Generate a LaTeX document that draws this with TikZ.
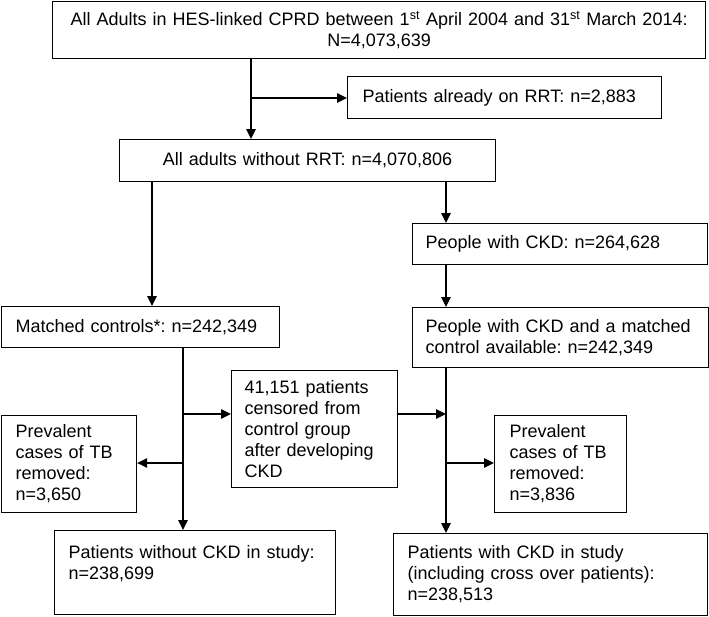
\documentclass[tikz,border=0pt]{standalone}
\usepackage{fontspec}
\setmainfont{Liberation Sans}
\usetikzlibrary{arrows.meta}
\frenchspacing
\begin{document}
\begin{tikzpicture}[x=1pt,y=-1pt,
  box/.style={draw, line width=1.2pt, anchor=north west, inner sep=0pt, align=left,
    font=\fontsize{18}{21}\selectfont},
  arr/.style={line width=1.2pt, -{Triangle[length=10pt,width=9.5pt]}}]
\useasboundingbox (0,0) rectangle (709,616);
% boxes
\node[box, minimum width=653pt, minimum height=57pt, text width=640pt, align=center] (top) at (52,1)
  {All Adults in HES-linked CPRD between 1\textsuperscript{st} April 2004 and 31\textsuperscript{st} March 2014:\\N=4,073,639};
\node[box, minimum width=314pt, minimum height=42pt, text width=284pt] (rrt) at (347,76)
  {Patients already on RRT: n=2,883};
\node[box, minimum width=376pt, minimum height=42pt, text width=360pt, align=center] (all) at (119,139)
  {All adults without RRT: n=4,070,806};
\node[box, minimum width=295pt, minimum height=41pt, text width=269pt] (ckd) at (412,223)
  {People with CKD: n=264,628};
\node[box, minimum width=296pt, minimum height=60pt, text width=270pt] (ckdm) at (412,307)
  {People with CKD and a matched\\control available: n=242,349};
\node[box, minimum width=278pt, minimum height=41pt, text width=250pt] (matched) at (1,306)
  {Matched controls*: n=242,349};
\node[box, minimum width=166pt, minimum height=117pt, text width=140pt] (cens) at (231,370)
  {41,151 patients\\censored from\\control group\\after developing\\CKD};
\node[box, minimum width=135pt, minimum height=97pt, text width=107pt] (prevL) at (1,415)
  {Prevalent\\cases of TB\\removed:\\n=3,650};
\node[box, minimum width=132pt, minimum height=97pt, text width=102pt] (prevR) at (494,415)
  {Prevalent\\cases of TB\\removed:\\n=3,836};
\node[box, minimum width=281pt, minimum height=84pt, text width=253pt] (wo) at (54,530)
  {Patients without CKD in study:\\n=238,699\\\mbox{}};
\node[box, minimum width=314pt, minimum height=82pt, text width=286pt] (w) at (393,533)
  {Patients with CKD in study\\(including cross over patients):\\n=238,513};
% connectors
\coordinate (a) at (251,98);
\coordinate (b) at (152,0);
\coordinate (c) at (446,0);
\coordinate (d) at (183,414);
\coordinate (e) at (183,463);
\coordinate (f) at (446,463);
\draw[arr] (top.south -| a) -- (all.north -| a);
\draw[arr] (a) -- (a -| rrt.west);
\draw[arr] (all.south -| b) -- (matched.north -| b);
\draw[arr] (all.south -| c) -- (ckd.north -| c);
\draw[arr] (ckd.south -| c) -- (ckdm.north -| c);
\draw[arr] (ckdm.south -| c) -- (w.north -| c);
\draw[arr] (matched.south -| d) -- (wo.north -| d);
\draw[arr] (d) -- (d -| cens.west);
\draw[arr] (e) -- (e -| prevL.east);
\draw[arr] (cens.east |- d) -- (c |- d);
\draw[arr] (f) -- (f -| prevR.west);
\end{tikzpicture}
\end{document}
